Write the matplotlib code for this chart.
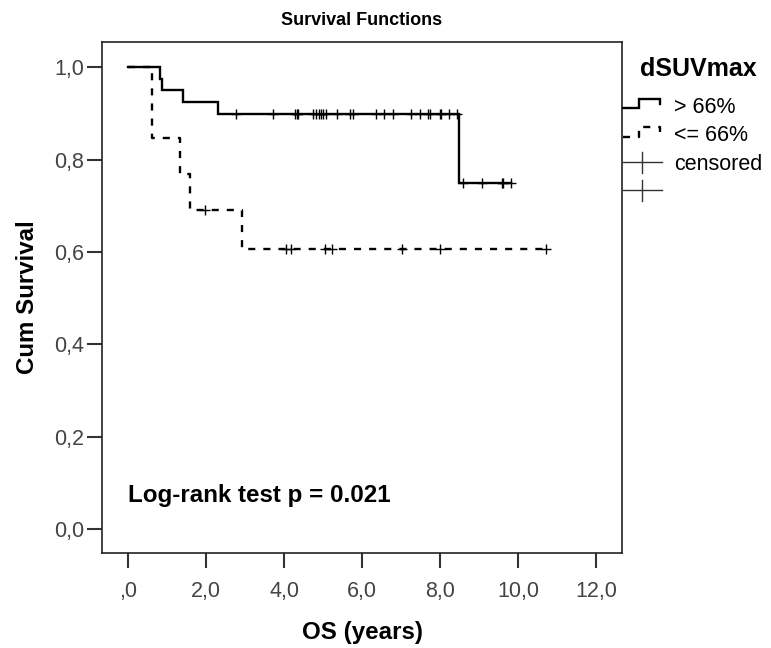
import numpy as np
import matplotlib
matplotlib.use("Agg")
import matplotlib.pyplot as plt
from matplotlib.lines import Line2D
from matplotlib.legend_handler import HandlerBase

plt.rcParams['font.family'] = ['Liberation Sans', 'DejaVu Sans']

# step curves (time in years, cumulative survival)
hi_times = [0.0, 0.83, 0.86, 1.40, 2.30, 8.50]
hi_surv = [1.0, 0.975, 0.95, 0.925, 0.90, 0.75]
hi_end = 9.83
hi_censored = [2.78, 3.72, 4.29, 4.33, 4.37, 4.75, 4.83, 4.89, 4.95, 5.01,
               5.07, 5.37, 5.69, 5.77, 6.35, 6.57, 6.80, 7.25, 7.49, 7.70,
               7.75, 8.00, 8.02, 8.22, 8.43, 8.60, 9.07, 9.59, 9.63, 9.82]

lo_times = [0.0, 0.61, 1.34, 1.58, 2.93]
lo_surv = [1.0, 0.846, 0.769, 0.692, 0.606]
lo_end = 10.72
lo_censored = [1.96, 4.06, 4.19, 5.05, 5.22, 7.02, 8.00, 10.72]

x_ticks = [0, 2, 4, 6, 8, 10, 12]
x_labels = [',0', '2,0', '4,0', '6,0', '8,0', '10,0', '12,0']
y_ticks = [0.0, 0.2, 0.4, 0.6, 0.8, 1.0]
y_labels = ['0,0', '0,2', '0,4', '0,6', '0,8', '1,0']

group_labels = ['> 66%', '<= 66%', 'censored', '']
DASH = (3.0, 3.4)


def surv_at(times, surv, t):
    idx = np.searchsorted(times, t, side='right') - 1
    return np.asarray(surv)[idx]


class StepHandler(HandlerBase):
    def create_artists(self, legend, orig_handle, xdescent, ydescent,
                       width, height, fontsize, trans):
        x = np.array([0.0, 0.42, 0.42, 0.95, 0.95]) * width - xdescent
        y = np.array([0.3, 0.3, 0.95, 0.95, 0.6]) * height - ydescent
        ln = Line2D(x, y, color='black', lw=orig_handle.get_linewidth(),
                    solid_joinstyle='miter')
        if orig_handle.get_linestyle() != '-':
            ln.set_dashes(DASH)
        ln.set_transform(trans)
        return [ln]


class CrossHandler(HandlerBase):
    def create_artists(self, legend, orig_handle, xdescent, ydescent,
                       width, height, fontsize, trans):
        xm = 0.5 * width - xdescent
        ym = 0.5 * height - ydescent
        h = Line2D([-xdescent, width - xdescent], [ym, ym], color='#333333', lw=1.0)
        v = Line2D([xm, xm], [ym - 0.7 * height, ym + 0.7 * height],
                   color='#333333', lw=1.0)
        h.set_transform(trans)
        v.set_transform(trans)
        return [h, v]


fig = plt.figure(figsize=(7.71, 6.48), dpi=100)
ax = fig.add_axes([102 / 771, 1 - 553 / 648, 520 / 771, 511 / 648])

# solid group
ax.step(hi_times + [hi_end], hi_surv + [hi_surv[-1]], where='post',
        color='black', lw=1.7, solid_joinstyle='miter')
ax.plot(hi_censored, surv_at(hi_times, hi_surv, hi_censored), '+',
        color='black', ms=7.5, mew=1.0)

# dashed group
ax.step(lo_times + [lo_end], lo_surv + [lo_surv[-1]], where='post',
        color='black', lw=1.7, dashes=DASH)
ax.plot(lo_censored, surv_at(lo_times, lo_surv, lo_censored), '+',
        color='black', ms=7.5, mew=1.0)

ax.set_xlim(-0.67, 12.67)
ax.set_ylim(-0.052, 1.055)
ax.set_xticks(x_ticks)
ax.set_xticklabels(x_labels)
ax.set_yticks(y_ticks)
ax.set_yticklabels(y_labels)
ax.tick_params(direction='out', length=11, width=1.5, color='#333333',
               labelsize=15.5, labelcolor='#444444')
ax.tick_params(axis='x', pad=9)
ax.tick_params(axis='y', pad=2)
for s in ax.spines.values():
    s.set_linewidth(1.2)
    s.set_color('#222222')

ax.set_title('Survival Functions', fontsize=13, fontweight='bold', pad=12)
ax.set_xlabel('OS (years)', fontsize=17.4, fontweight='bold', labelpad=14)
ax.set_ylabel('Cum Survival', fontsize=17.4, fontweight='bold', labelpad=11)

ax.text(0.05, 0.113, 'Log-rank test p = 0.021', transform=ax.transAxes,
        fontsize=17.4, fontweight='bold', va='center', ha='left')

# legend
fig.text(698 / 771, 1 - 69 / 648, 'dSUVmax', fontsize=18, fontweight='bold',
         ha='center', va='center')
h_hi = Line2D([], [], color='black', lw=1.7, linestyle='-')
h_lo = Line2D([], [], color='black', lw=1.7, linestyle='--')
h_c1 = Line2D([], [], marker='+', linestyle='None')
h_c2 = Line2D([], [], marker='+', linestyle='None', color='gray')
leg = fig.legend([h_hi, h_lo, h_c1, h_c2], group_labels,
                 handler_map={h_hi: StepHandler(), h_lo: StepHandler(),
                              h_c1: CrossHandler(), h_c2: CrossHandler()},
                 loc='upper left', bbox_to_anchor=(623 / 771, 1 - 97 / 648),
                 frameon=False, fontsize=15.5,
                 handlelength=1.8, handletextpad=0.58, labelspacing=0.34,
                 borderpad=0, borderaxespad=0)

fig.savefig('out.png', dpi=100)
